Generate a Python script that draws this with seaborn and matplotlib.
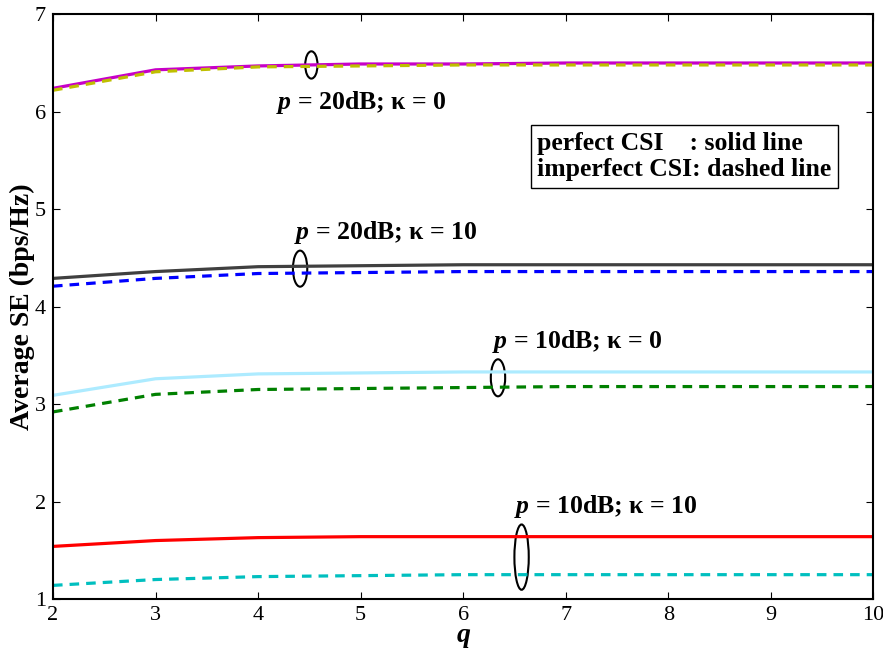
import matplotlib
matplotlib.use('Agg')
import matplotlib.pyplot as plt
from matplotlib.patches import Ellipse
import seaborn as sns

# data
q = [2, 3, 4, 5, 6, 7, 8, 9, 10]

se_20_k0_perfect = [6.24, 6.43, 6.47, 6.49, 6.49, 6.50, 6.50, 6.50, 6.50]
se_20_k0_imperfect = [6.22, 6.41, 6.46, 6.47, 6.48, 6.48, 6.48, 6.48, 6.48]
se_20_k10_perfect = [4.29, 4.36, 4.41, 4.42, 4.43, 4.43, 4.43, 4.43, 4.43]
se_20_k10_imperfect = [4.21, 4.29, 4.34, 4.35, 4.36, 4.36, 4.36, 4.36, 4.36]
se_10_k0_perfect = [3.09, 3.26, 3.31, 3.32, 3.33, 3.33, 3.33, 3.33, 3.33]
se_10_k0_imperfect = [2.92, 3.10, 3.15, 3.16, 3.17, 3.18, 3.18, 3.18, 3.18]
se_10_k10_perfect = [1.54, 1.60, 1.63, 1.64, 1.64, 1.64, 1.64, 1.64, 1.64]
se_10_k10_imperfect = [1.14, 1.20, 1.23, 1.24, 1.25, 1.25, 1.25, 1.25, 1.25]

curve_labels = ['$p$ = 20dB; κ = 0', '$p$ = 20dB; κ = 10',
                '$p$ = 10dB; κ = 0', '$p$ = 10dB; κ = 10']

sns.set_style('ticks')
plt.rcParams['font.family'] = ['Liberation Serif', 'DejaVu Serif']
plt.rcParams['mathtext.fontset'] = 'custom'
plt.rcParams['mathtext.it'] = 'Liberation Serif:italic:bold'
plt.rcParams['mathtext.bf'] = 'Liberation Serif:bold'
plt.rcParams['mathtext.rm'] = 'Liberation Serif:bold'
for key in ['text.color', 'axes.labelcolor', 'xtick.color', 'ytick.color', 'axes.edgecolor']:
    plt.rcParams[key] = 'black'

fig = plt.figure(figsize=(8.83, 6.49), dpi=100)
ax = fig.add_axes([0.060, 0.077, 0.929, 0.901])

series = [
    (se_20_k0_perfect, (0.78, 0.0, 0.78), '-'),
    (se_20_k0_imperfect, (0.75, 0.75, 0.0), '--'),
    (se_20_k10_perfect, (0.25, 0.25, 0.25), '-'),
    (se_20_k10_imperfect, (0.0, 0.0, 1.0), '--'),
    (se_10_k0_perfect, (0.68, 0.92, 1.0), '-'),
    (se_10_k0_imperfect, (0.0, 0.5, 0.0), '--'),
    (se_10_k10_perfect, (1.0, 0.0, 0.0), '-'),
    (se_10_k10_imperfect, (0.0, 0.75, 0.75), '--'),
]
for vals, col, ls in series:
    sns.lineplot(x=q, y=vals, ax=ax, color=col, linewidth=2.3)

# dashed style for the imperfect-CSI curves
for line, (_, _, ls) in zip(ax.get_lines(), series):
    if ls == '--':
        line.set_dashes((3, 2.2))

# ellipses marking the pairs
ell = [(4.52, 6.48, 0.12, 0.28), (4.41, 4.39, 0.14, 0.37),
       (6.34, 3.27, 0.14, 0.38), (6.57, 1.43, 0.14, 0.67)]
for x0, y0, w, h in ell:
    ax.add_patch(Ellipse((x0, y0), w, h, fill=False, edgecolor='black', linewidth=1.5))

text_pos = [(5.01, 6.09), (5.24, 4.76), (7.11, 3.64), (7.39, 1.95)]
for (tx, ty), lab in zip(text_pos, curve_labels):
    ax.text(tx, ty, lab, ha='center', va='center', fontsize=18.5, fontweight='bold')

ax.text(6.72, 5.54, 'perfect CSI    : solid line\nimperfect CSI: dashed line',
        ha='left', va='center', fontsize=18.5, fontweight='bold', linespacing=1.2,
        bbox=dict(boxstyle='square,pad=0.25', facecolor='white', edgecolor='black', linewidth=1))

ax.set_xlim(2, 10)
ax.set_ylim(1, 7)
ax.set_xticks(range(2, 11))
ax.set_yticks(range(1, 8))
ax.tick_params(direction='in', top=True, right=True, labelsize=16, length=5, width=0.8, pad=5)
for sp in ax.spines.values():
    sp.set_linewidth(1.5)
    sp.set_visible(True)

ax.set_xlabel('$q$', fontsize=20, labelpad=0)
ax.set_ylabel('Average SE (bps/Hz)', fontsize=20, fontweight='bold', labelpad=0)

fig.savefig('out.png', dpi=100)
